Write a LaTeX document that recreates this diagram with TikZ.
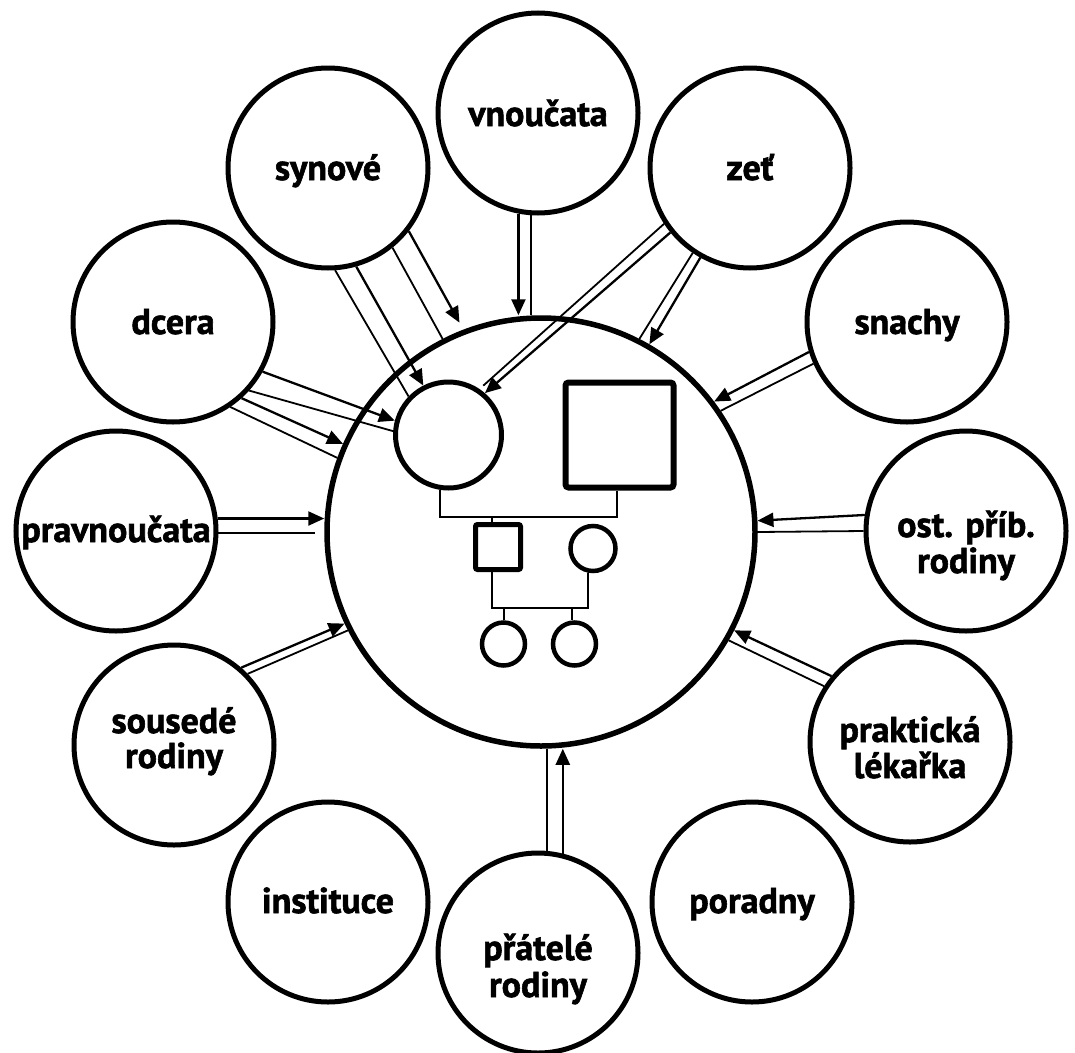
\documentclass[tikz,border=0pt]{standalone}
\usepackage{fontspec}
\setmainfont{PT Sans}[BoldFeatures={FakeBold=1.6}]
\usetikzlibrary{arrows.meta}
\begin{document}
\begin{tikzpicture}[x=1pt,y=-1pt,
  outer/.style={circle, draw, line width=5pt, minimum size=200pt, inner sep=0pt},
  lbl/.style={font=\bfseries\fontsize{36}{36}\selectfont, anchor=base, inner sep=0pt},
  conn/.style={line width=1.8pt},
  arr/.style={line width=2.3pt, -{Triangle[length=16pt,width=14pt]}},
  fam/.style={line width=2pt}]
\fill[white] (0,0) rectangle (1075,1052);
\useasboundingbox (0,0) rectangle (1075,1052);

% central circle
\node[circle, draw, line width=5.5pt, minimum size=428pt, inner sep=0pt] (C) at (541,532) {};

% family inside
\node[circle, draw, line width=5pt, minimum size=106pt, inner sep=0pt] (M) at (448.5,435) {};
\node[rectangle, draw, line width=6pt, minimum width=108pt, minimum height=105pt, rounded corners=3pt, inner sep=0pt] (F) at (619.5,435) {};
\node[rectangle, draw, line width=5pt, minimum size=45pt, rounded corners=2pt, inner sep=0pt] (S) at (498,547) {};
\node[circle, draw, line width=4.5pt, minimum size=45pt, inner sep=0pt] (D) at (593,548.5) {};
\node[circle, draw, line width=4.5pt, minimum size=43pt, inner sep=0pt] (G1) at (503.5,644) {};
\node[circle, draw, line width=4.5pt, minimum size=43pt, inner sep=0pt] (G2) at (574.5,644) {};

\coordinate (j1) at (492,517);
\coordinate (j2) at (540,608);
\draw[fam] (M.-99) |- (j1) -| ([xshift=-2.5pt]F.south);
\draw[fam] (j1) -- (j1 |- S.north);
\draw[fam] ([xshift=-6pt]S.south) |- (j2) -| ([xshift=-5pt]D.south);
\draw[fam] (G1.north |- j2) -- (G1.north);
\draw[fam] ([xshift=-2.5pt]G2.north |- j2) -- ([xshift=-2.5pt]G2.north);

% outer circles
\node[outer] (vn) at (538,113) {};
\node[outer] (sy) at (328,168) {};
\node[outer] (ze) at (750,168) {};
\node[outer] (dc) at (173,322) {};
\node[outer] (sn) at (907,322) {};
\node[outer] (pr) at (116,531) {};
\node[outer] (os) at (966,531) {};
\node[outer] (so) at (174,745) {};
\node[outer] (pk) at (910,742) {};
\node[outer] (in) at (328,902) {};
\node[outer] (po) at (752,902) {};
\node[outer] (pa) at (538,953) {};

% labels
\node[lbl] (vnT) at (538,126) {vnoučata};
\node[lbl] (syT) at (328,180) {synové};
\node[lbl] (zeT) at (750,180) {zeť};
\node[lbl] (dcT) at (173,334) {dcera};
\node[lbl] (snT) at (907,334) {snachy};
\node[lbl] (prT) at (116,542) {pravnoučata};
\node[lbl] (osT1) at (966,537) {ost. příb.};
\node[lbl] (osT2) at (966,573) {rodiny};
\node[lbl] (soT1) at (174,733) {sousedé};
\node[lbl] (soT2) at (174,768) {rodiny};
\node[lbl] (pkT1) at (910,742) {praktická};
\node[lbl] (pkT2) at (910,778) {lékařka};
\node[lbl] (inT) at (328,913) {instituce};
\node[lbl] (poT) at (752,913) {poradny};
\node[lbl] (paT1) at (538,960) {přátelé};
\node[lbl] (paT2) at (538,997) {rodiny};

% synové
\draw[conn] (sy.-86.1) -- (M.136.8);
\draw[arr] (sy.-74.7) -- (M.117.9);
\draw[conn] (sy.-51.4) -- (C.117.0);
\draw[arr, shorten >=8pt] (sy.-38.7) -- (C.111.3);
% dcera
\draw[arr] (dc.-29.3) -- (M.165.8);
\draw[conn] (dc.-42) -- (M.176.9);
\draw[arr] (dc.-48.5) -- (C.156.9);
\draw[conn] (dc.-56.9) -- (C.160);
% vnoučata
\draw[arr] (vn.-101.6) -- (vn.-101.6 |- C.north);
\draw[conn] (vn.-94.5) -- (vn.-94.5 |- C.north);
% zeť
\draw[conn, shorten >=5pt] (ze.-147.6) -- (M.56.2);
\draw[arr] (ze.-141.3) -- (M.49);
\draw[conn] (ze.-124.3) -- (C.63.7);
\draw[arr] (ze.-119.4) -- (C.60.5);
% snachy
\draw[arr] (sn.-163.5) -- (C.37.1);
\draw[conn] (sn.-156) -- (C.34.1);
% pravnoučata
\draw[arr] (pr.7.3) -- (pr.7.3 -| C.west);
\draw[conn, shorten >=9pt] (pr.-1.8) -- (pr.-1.8 -| C.west);
% ost. příb. rodiny
\draw[arr] (os.171.8) -- (C.3.5);
\draw[conn] (os.180.5) -- (C.-0.5);
% sousedé
\draw[arr] (so.49.6) -- (C.-155.4);
\draw[conn] (so.44.2) -- (C.-153.2);
% praktická
\draw[arr] (pk.140.1) -- (C.-27.5);
\draw[conn] (pk.147.4) -- (C.-30.6);
% přátelé
\draw[conn] (pa.85.2) -- (pa.85.2 |- C.south);
\draw[arr] (pa.76) -- (pa.76 |- C.south);
\end{tikzpicture}
\end{document}
